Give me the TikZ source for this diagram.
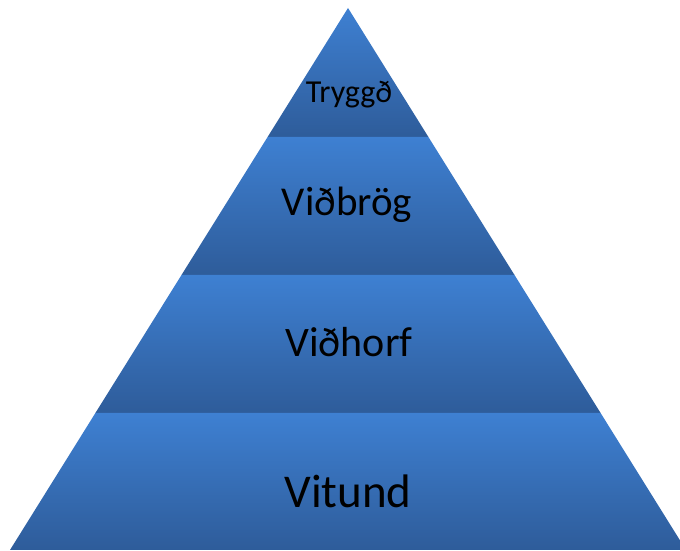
\documentclass[tikz,border=0pt]{standalone}
\usepackage{fontspec}
\setmainfont{Carlito}
\tikzset{
  band/.style={top color=bandtop, bottom color=bandbot, draw=none},
  lbl/.style={anchor=base, text=black, inner sep=0pt}
}
\definecolor{bandtop}{RGB}{62,128,210}
\definecolor{bandbot}{RGB}{46,92,154}
\begin{document}
\begin{tikzpicture}[x=1pt,y=1pt]
\useasboundingbox (0,0) rectangle (680,551);
\clip (0,0) rectangle (680,551);
% pyramid: apex (348,543), base y=1 from x=10 to x=686
\coordinate (apex) at (348,543);
\coordinate (l1) at (267.6,414); \coordinate (r1) at (428.4,414);
\coordinate (l2) at (181.5,276); \coordinate (r2) at (514.5,276);
\coordinate (l3) at (95.4,138);  \coordinate (r3) at (600.6,138);
\coordinate (l4) at (10,1);      \coordinate (r4) at (686,1);
\shade[band] (apex) -- (r1) -- (l1) -- cycle;
\shade[band] (l1) -- (r1) -- (r2) -- (l2) -- cycle;
\shade[band] (l2) -- (r2) -- (r3) -- (l3) -- cycle;
\shade[band] (l3) -- (r3) -- (r4) -- (l4) -- cycle;
\node[lbl, font=\fontsize{32}{38}\selectfont] (t1) at (349,448.5) {Tryggð};
\node[lbl, font=\fontsize{41}{49}\selectfont] (t2) at (347,335.5) {Viðbrög};
\node[lbl, font=\fontsize{42}{50}\selectfont] (t3) at (349,194.5) {Viðhorf};
\node[lbl, font=\fontsize{47}{56}\selectfont] (t4) at (348,43.5) {Vitund};
\end{tikzpicture}
\end{document}
